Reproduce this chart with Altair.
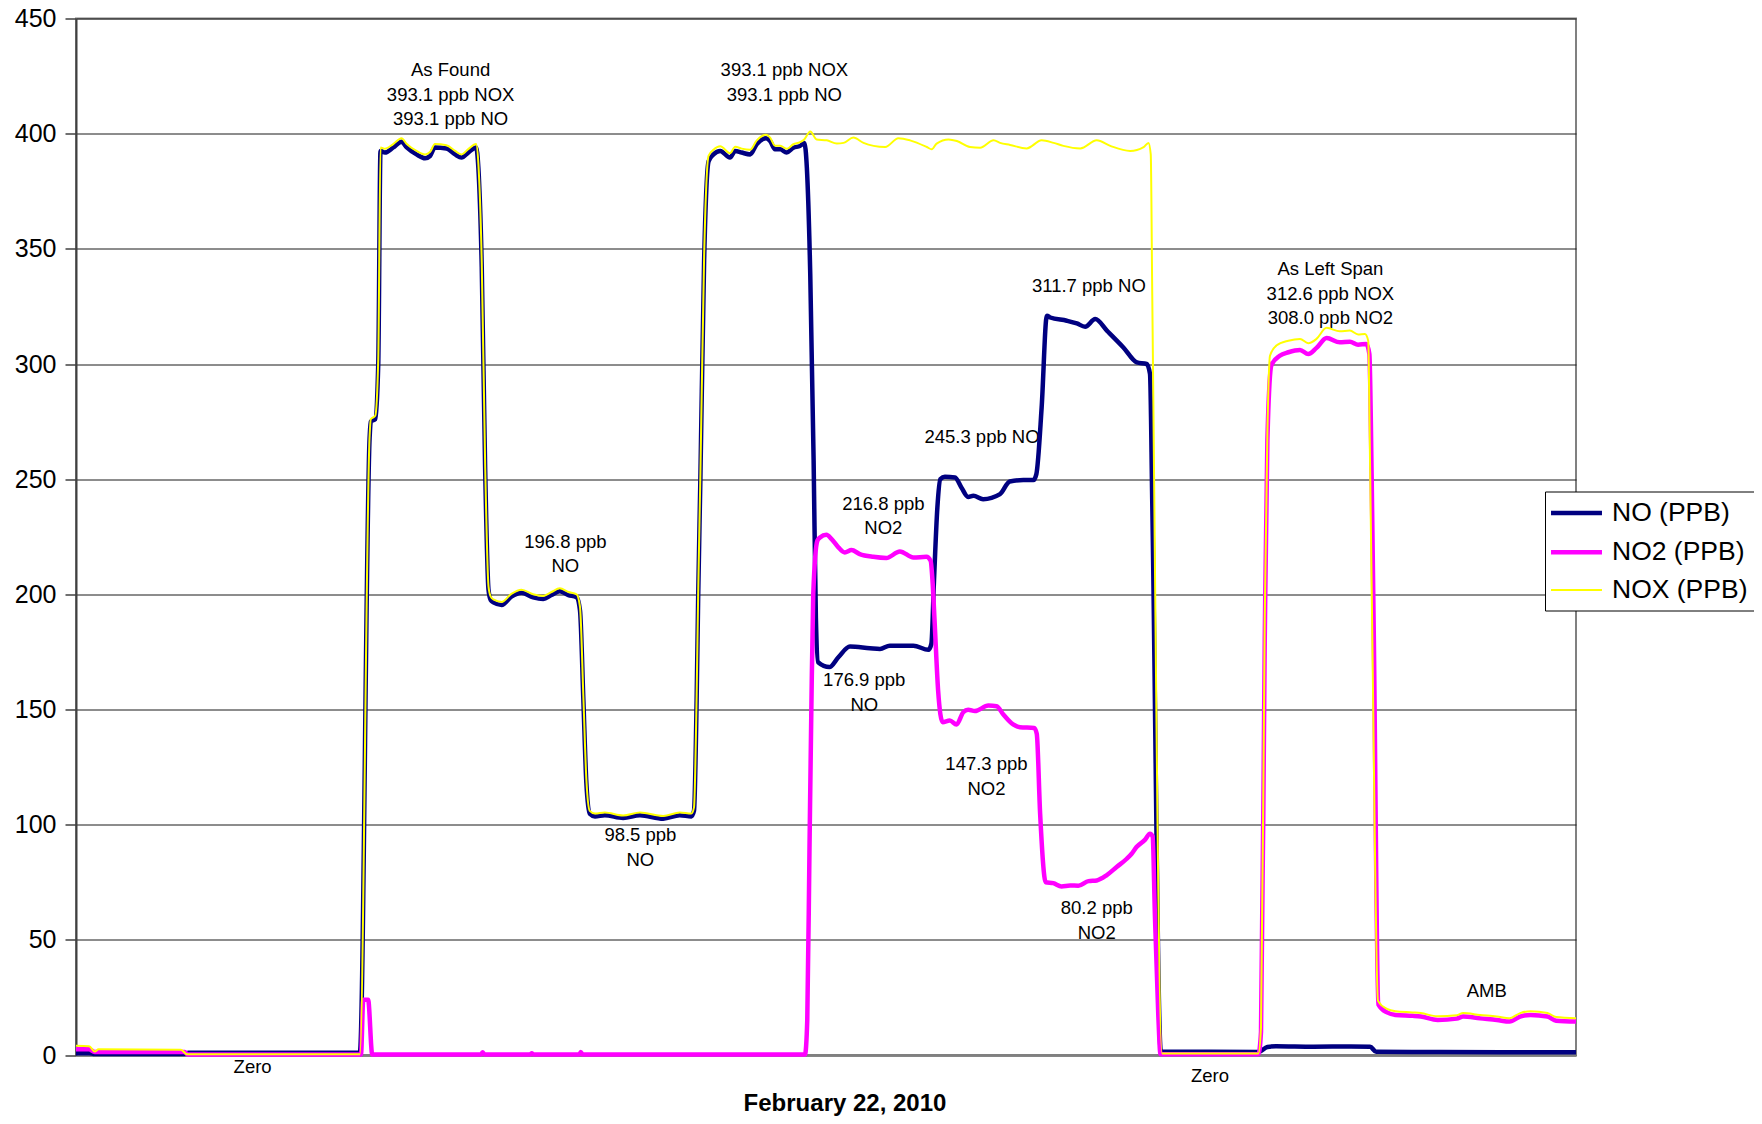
import altair as alt
import pandas as pd

# ---------------- data (time index in minutes, value in ppb) ----------------
series_names = ["NO (PPB)", "NO2 (PPB)", "NOX (PPB)"]

no_t = [0, 3.5, 5, 29, 30, 75.7, 78.3, 78.6, 79.8, 80.6, 81.2, 82.4, 84.6, 86.8, 88.2, 90.8, 93.1, 94.4, 95.7, 98.8,
        101.1, 102.8, 104.6, 106.7, 107.3, 108.2, 109.1, 110.0, 110.6, 111.3, 113.5, 116.1, 118.8, 121.9, 124.6, 126.8,
        129.0, 131.3, 133.5, 134.4, 135.3, 136.1, 137.0, 138.4, 141.0, 145.9, 150.4, 156.6, 161.0, 164.1, 164.8, 165.5,
        165.9, 166.5, 167.5, 168.7, 170.0, 171.8, 174.4, 175.8, 177.5, 179.8, 181.5, 184.0, 185.1, 186.4, 187.8, 189.5,
        191.3, 193.1, 194.2, 194.9, 195.8, 196.7, 197.3, 197.9, 200.9, 203.3, 206.4, 211.7, 214.4, 217.0, 223.3, 227.3,
        228.1, 228.8, 229.7, 230.5, 231.7, 234.4, 236.1, 237.9, 239.3, 241.9, 246.4, 249.0, 252.6, 255.3, 256.1, 257.5,
        258.9, 259.8, 264.2, 266.9, 269.1, 271.8, 274.9, 279.3, 282.9, 285.5, 286.4, 287.0, 289.3, 315.3, 317.7, 320.0,
        330.0, 340.0, 345.1, 346.7, 360.0, 380.0, 400.0]
no_v = [0.8, 0.8, 0.4, 0.4, 1.0, 1.0, 268, 275, 276, 300, 392.5, 391.8, 394, 396.5, 394, 391, 389.3, 390.3, 394, 393.6,
        391, 389.6, 391.8, 394, 385, 342, 255, 202, 197.5, 196.5, 195.4, 199, 200.7, 198.7, 198, 199.7,
        201.3, 199.7, 198.7, 193, 154, 118, 104.8, 103.6, 104.1, 102.9, 104.1, 102.6, 104.1, 103.6, 106, 154,
        197.5, 250, 345, 388, 391, 392.5, 389.6, 392.5, 391.8, 391, 395.4, 398, 396.8, 393.2, 393.2, 391.8,
        393.9, 394.7, 396, 385, 339, 258, 190, 170.5, 168.4, 172.7, 177.3, 176.6, 176.3, 177.7, 177.7, 175.9,
        178.5, 206, 237.7, 250, 251, 250.7, 246.4, 242.3, 242.8, 241.3, 243.5, 249, 249.6, 249.6, 252.2, 281,
        321, 320.2, 318.8, 317.6, 316.2, 319.5, 314.5, 307.2, 300.7, 300, 295.7, 240, 1.5, 1.3, 3.5, 3.8,
        3.6, 3.7, 3.6, 1.4, 1.3, 1.2, 1.2]

no2_t = [0, 3.5, 5, 29, 29.8, 76.0, 76.6, 77.9, 79.0, 108.0, 108.4, 109.0, 121.1, 121.5, 122.0, 134.2, 134.6, 135.1,
         194.4, 195.0, 195.6, 196.1, 196.6, 197.7, 198.4, 200.1, 201.5, 203.3, 205.0, 206.8, 209.0, 212.6, 216.1,
         219.7, 223.3, 226.8, 227.9, 228.4, 229.0, 229.9, 231.1, 233.0, 234.8, 236.6, 237.9, 239.7, 243.3, 245.5,
         247.3, 249.9, 251.7, 255.5, 256.2, 257.1, 258.6, 260.6, 262.8, 265.1, 267.3, 270.0, 272.2, 274.8, 277.5,
         280.2, 281.5, 282.8, 285.1, 286.4, 287.1, 287.7, 288.6, 289.2, 315.3, 316.0, 317.0, 317.7, 318.8, 321.0,
         323.3, 326.4, 328.6, 330.8, 333.5, 337.0, 339.7, 341.9, 344.1, 344.9, 345.5, 346.1, 347.3, 349.6, 351.9,
         356.4, 358.6, 363.1, 368.2, 369.9, 374.4, 378.9, 382.3, 385.1, 387.9, 392.4, 394.7, 400.0]
no2_v = [2.5, 2.5, 1.3, 1.3, 0.2, 0.2, 24, 24, 0.2, 0.2, 1.2, 0.2, 0.2, 0.8, 0.2, 0.2, 1.3, 0.2,
         0.2, 15, 90, 151, 200, 223.3, 224.7, 225.9, 224, 220.4, 218.2, 219.2, 217.5, 216.3, 215.8,
         218.6, 216, 216.3, 214.6, 205.9, 187, 158.2, 144.5, 145.2, 143.5, 148.8, 149.9, 149.3, 151.7, 151.4,
         147.8, 143.5, 142.3, 142, 139.5, 104.8, 75, 74.6, 73.2, 73.6, 73.5, 75.5, 75.8, 78, 81.6,
         85.2, 87.4, 90.3, 93.5, 96.1, 94.9, 61.3, 17.8, 0.3, 0.3, 10, 180, 266.7, 299.7, 303.6,
         305.1, 306.1, 304.3, 307, 311.3, 309.4, 309.7, 308.4, 308.7, 304.3, 252.2, 179.7, 22, 18.5, 17.4,
         17, 16.7, 15.2, 15.8, 16.7, 15.9, 15.2, 14.5, 16.7, 17.4, 16.7, 14.9, 14.5]

nox_t = [0, 3.5, 5, 6, 28, 29.6, 75.7, 78.3, 78.6, 79.8, 80.6, 81.2, 82.4, 84.6, 86.8, 88.2, 90.8, 93.1, 94.4, 95.7,
         98.8, 101.1, 102.8, 104.6, 106.7, 107.3, 108.2, 109.1, 110.0, 110.6, 111.3, 113.5, 116.1, 118.8, 121.9,
         124.6, 126.8, 129.0, 131.3, 133.5, 134.4, 135.3, 136.1, 137.0, 138.4, 141.0, 145.9, 150.4, 156.6, 161.0,
         164.1, 164.8, 165.5, 165.9, 166.5, 167.5, 168.7, 170.0, 171.8, 174.4, 175.8, 177.5, 179.8, 181.5, 184.0,
         185.1, 186.4, 187.8, 189.5, 191.3, 193.1, 194.2, 195.8, 197.5, 200.2, 202.9, 204.7, 207.3, 210.0, 212.7,
         215.8, 219.3, 222.4, 226.9, 228.2, 229.5, 232.7, 234.9, 238.4, 241.1, 244.7, 246.4, 249.1, 253.5, 257.5,
         260.7, 263.3, 267.8, 272.2, 275.8, 281.1, 284.7, 286.0, 286.6, 287.0, 289.6, 315.3, 316.0, 317.0, 317.7,
         318.4, 320.1, 323.3, 326.4, 328.6, 330.8, 333.5, 337.0, 339.7, 341.9, 343.7, 344.6, 345.0, 345.7, 347.2,
         349.6, 351.9, 356.4, 358.6, 363.1, 368.2, 369.9, 374.4, 378.9, 382.3, 385.1, 387.9, 392.4, 394.7, 400.0]
nox_v = [4, 3.8, 1.5, 2.5, 2.3, 0.3, 0.3, 269, 276, 277.5, 302, 394, 393.5, 395.5, 398, 395.5, 392.5, 391, 392, 395.5,
         395, 392.5, 391, 393.3, 395.5, 387, 344, 257, 203.5, 199, 197.8, 196.7, 200.2, 202, 200,
         199.3, 201, 202.6, 201, 200, 194.5, 155.5, 119.5, 106, 104.8, 105.3, 104, 105.3, 103.8, 105.3,
         104.8, 107.5, 156, 199, 252, 347, 390.5, 393, 394.5, 391.5, 394.3, 393.5, 393, 397, 399.5,
         398.3, 394.8, 394.8, 393.4, 395.4, 396.3, 397.5, 400.9, 397.5, 397.1, 395.7, 396, 398.3, 396, 394.7,
         394.2, 398, 397.1, 394.2, 393.2, 395.7, 397.5, 396.8, 394.2, 393.9, 397.1, 396, 395.1, 393.6, 397.1,
         396, 394.7, 393.6, 397.1, 394.7, 392.5, 394.2, 396, 391, 330, 0.7, 0.7, 12, 190, 270,
         303.6, 308, 310.1, 310.9, 309, 310.9, 315.7, 314.2, 314.5, 312.8, 313, 310.1, 266.7, 179.7, 23.5,
         20, 19, 18.5, 18.2, 16.8, 17.3, 18.2, 17.4, 16.7, 16, 18.2, 19, 18.2, 16.5, 16]

label_text = ["As Found", "393.1 ppb NOX", "393.1 ppb NO", "393.1 ppb NOX", "393.1 ppb NO",
              "196.8 ppb", "NO", "98.5 ppb", "NO", "216.8 ppb", "NO2", "176.9 ppb", "NO",
              "245.3 ppb NO", "311.7 ppb NO", "147.3 ppb", "NO2", "80.2 ppb", "NO2",
              "As Left Span", "312.6 ppb NOX", "308.0 ppb NO2", "AMB", "Zero", "Zero"]
label_t = [99.9, 99.9, 99.9, 188.9, 188.9, 130.5, 130.5, 150.5, 150.5, 215.3, 215.3, 210.2, 210.2,
           241.6, 270.1, 242.8, 242.8, 272.2, 272.2, 334.5, 334.5, 334.5, 376.2, 47.1, 302.4]
label_v = [427.6, 416.9, 406.2, 427.6, 416.9, 222.8, 212.1, 95.5, 84.8, 239.4, 228.7, 162.8, 152.1,
           268.2, 334.0, 126.3, 115.5, 63.8, 53.1, 341.3, 330.6, 319.9, 27.7, -5.4, -9.3]

y_ticks = [0, 50, 100, 150, 200, 250, 300, 350, 400, 450]

assert len(no_t) == len(no_v), (len(no_t), len(no_v))
assert len(no2_t) == len(no2_v), (len(no2_t), len(no2_v))
assert len(nox_t) == len(nox_v), (len(nox_t), len(nox_v))
assert len(label_text) == len(label_t) == len(label_v)

rows = []
for name, ts, vs in zip(series_names, [no_t, no2_t, nox_t], [no_v, no2_v, nox_v]):
    for t, v in zip(ts, vs):
        rows.append({"series": name, "t": t, "v": v})
df = pd.DataFrame(rows)
labels_df = pd.DataFrame({"text": label_text, "t": label_t, "v": label_v})

FONT = "Liberation Sans"
colors = ["#000080", "#FF00FF", "#FFFF00"]
widths = [4.5, 4.5, 2]

x_enc = alt.X("t:Q", scale=alt.Scale(domain=[0, 400], nice=False, zero=False),
              axis=alt.Axis(title="February 22, 2010", labels=False, ticks=False, grid=False,
                            domainColor="#808080", domainWidth=2,
                            titleFont=FONT, titleFontSize=24, titleFontWeight="bold",
                            titleColor="black", titlePadding=36, titleX=768.5, titleAlign="center"))
y_enc = alt.Y("v:Q", scale=alt.Scale(domain=[0, 450], nice=False),
              axis=alt.Axis(title=None, values=y_ticks, grid=True, gridColor="#1a1a1a", gridWidth=1,
                            domainColor="#404040", domainWidth=2, tickColor="#404040", tickSize=11,
                            tickWidth=1.5, labelFont=FONT, labelFontSize=25, labelColor="black",
                            labelPadding=9))

legend = alt.Legend(title=None, orient="none", legendX=1469, legendY=473,
                    fillColor="white", strokeColor="black", cornerRadius=0, padding=6,
                    symbolType="M-1.96,0L1.96,0", symbolSize=676, symbolOffset=10,
                    labelFont=FONT, labelFontSize=26.5, labelColor="black",
                    labelOffset=20, rowPadding=10.3)

text_layer = alt.Chart(labels_df).mark_text(font=FONT, fontSize=18.5, color="black",
                                            align="center", baseline="middle").encode(
    x=alt.X("t:Q"), y=alt.Y("v:Q"), text="text:N")

line_layer = alt.Chart(df).mark_line(interpolate="monotone").encode(
    x=x_enc, y=y_enc,
    color=alt.Color("series:N", scale=alt.Scale(domain=series_names, range=colors), legend=legend),
    strokeWidth=alt.StrokeWidth("series:N", scale=alt.Scale(type="ordinal", domain=series_names, range=widths),
                                legend=legend),
)

chart = alt.layer(text_layer, line_layer).properties(
    width=1500, height=1036.5,
    padding={"left": 68, "top": 10.5, "right": 178, "bottom": 61},
    autosize=alt.AutoSizeParams(type="none"),
    background="white",
).configure_view(stroke="#808080", strokeWidth=2)

chart.save("out.html", embed_options={"renderer": "svg", "actions": False})
